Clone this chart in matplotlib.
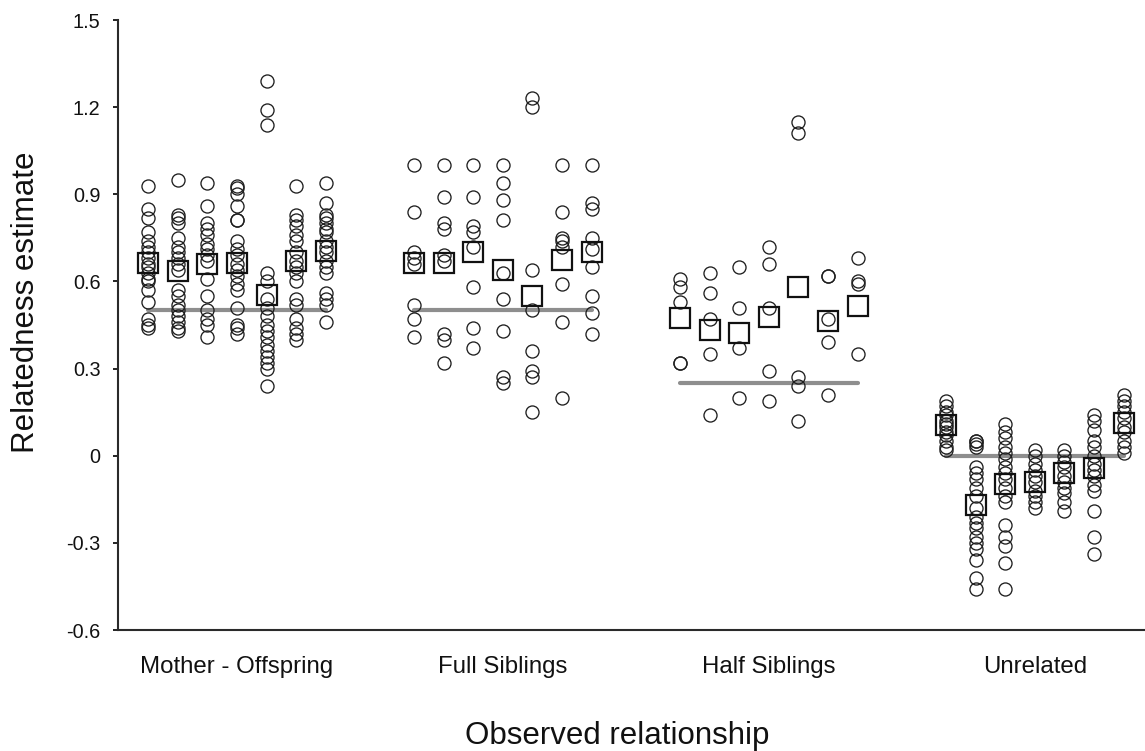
import matplotlib
matplotlib.use("Agg")
import matplotlib.pyplot as plt

plt.rcParams['font.family'] = ['Liberation Sans', 'DejaVu Sans']

categories = ["Mother - Offspring", "Full Siblings", "Half Siblings", "Unrelated"]
expected = [0.5, 0.5, 0.25, 0.0]

mother_offspring = [
    [0.93, 0.85, 0.82, 0.77, 0.74, 0.72, 0.70, 0.68, 0.66, 0.65, 0.63, 0.61, 0.60, 0.57, 0.53, 0.47, 0.45, 0.44],
    [0.95, 0.83, 0.82, 0.80, 0.75, 0.72, 0.70, 0.68, 0.66, 0.64, 0.57, 0.55, 0.52, 0.50, 0.48, 0.46, 0.44, 0.43],
    [0.94, 0.86, 0.80, 0.78, 0.76, 0.73, 0.71, 0.69, 0.67, 0.61, 0.55, 0.50, 0.47, 0.45, 0.41],
    [0.93, 0.92, 0.90, 0.86, 0.81, 0.81, 0.74, 0.71, 0.69, 0.66, 0.64, 0.62, 0.59, 0.57, 0.51, 0.45, 0.44, 0.42],
    [1.29, 1.19, 1.14, 0.63, 0.60, 0.54, 0.51, 0.48, 0.45, 0.43, 0.41, 0.38, 0.36, 0.34, 0.32, 0.30, 0.24],
    [0.93, 0.83, 0.81, 0.79, 0.76, 0.74, 0.70, 0.67, 0.65, 0.63, 0.60, 0.54, 0.52, 0.47, 0.44, 0.42, 0.40],
    [0.94, 0.87, 0.83, 0.82, 0.80, 0.78, 0.77, 0.74, 0.72, 0.70, 0.67, 0.65, 0.63, 0.56, 0.54, 0.52, 0.46],
]
mother_offspring_means = [0.665, 0.637, 0.66, 0.665, 0.553, 0.67, 0.706]

full_siblings = [
    [1.00, 0.84, 0.70, 0.68, 0.66, 0.52, 0.47, 0.41],
    [1.00, 0.89, 0.80, 0.78, 0.69, 0.67, 0.42, 0.40, 0.32],
    [1.00, 0.89, 0.79, 0.77, 0.72, 0.58, 0.44, 0.37],
    [1.00, 0.94, 0.88, 0.81, 0.63, 0.54, 0.43, 0.27, 0.25],
    [1.23, 1.20, 0.64, 0.50, 0.36, 0.29, 0.27, 0.15],
    [1.00, 0.84, 0.75, 0.74, 0.72, 0.59, 0.46, 0.20],
    [1.00, 0.87, 0.85, 0.75, 0.71, 0.65, 0.55, 0.49, 0.42],
]
full_siblings_means = [0.662, 0.665, 0.702, 0.639, 0.55, 0.674, 0.702]

half_siblings = [
    [0.61, 0.58, 0.53, 0.32, 0.32],
    [0.63, 0.56, 0.47, 0.35, 0.14],
    [0.65, 0.51, 0.37, 0.20],
    [0.72, 0.66, 0.51, 0.29, 0.19],
    [1.15, 1.11, 0.27, 0.24, 0.12],
    [0.62, 0.62, 0.47, 0.39, 0.21],
    [0.68, 0.60, 0.59, 0.35],
]
half_siblings_means = [0.473, 0.433, 0.421, 0.479, 0.582, 0.465, 0.516]

unrelated = [
    [0.19, 0.17, 0.15, 0.14, 0.12, 0.11, 0.10, 0.08, 0.07, 0.05, 0.03, 0.02],
    [0.05, 0.05, 0.04, 0.03, -0.04, -0.06, -0.08, -0.11, -0.14, -0.18, -0.21, -0.23, -0.25, -0.28, -0.30, -0.32, -0.36, -0.42, -0.46],
    [0.11, 0.08, 0.06, 0.03, 0.01, -0.01, -0.04, -0.06, -0.08, -0.11, -0.14, -0.16, -0.24, -0.28, -0.31, -0.37, -0.46],
    [0.02, 0.00, -0.03, -0.05, -0.07, -0.09, -0.12, -0.14, -0.16, -0.18],
    [0.02, 0.00, -0.02, -0.04, -0.07, -0.09, -0.11, -0.13, -0.16, -0.19],
    [0.14, 0.12, 0.09, 0.05, 0.03, 0.00, -0.03, -0.05, -0.07, -0.10, -0.12, -0.19, -0.28, -0.34],
    [0.21, 0.19, 0.17, 0.15, 0.13, 0.10, 0.08, 0.05, 0.03, 0.01],
]
unrelated_means = [0.106, -0.17, -0.097, -0.09, -0.058, -0.043, 0.111]

groups = [mother_offspring, full_siblings, half_siblings, unrelated]
group_means = [mother_offspring_means, full_siblings_means, half_siblings_means, unrelated_means]

W, H = 1145, 751
fig = plt.figure(figsize=(W / 100, H / 100), dpi=100)
ax = fig.add_axes([118 / W, (H - 630) / H, (W - 118) / W, 610 / H])

step = 0.1113
for gi, (cols, means) in enumerate(zip(groups, group_means)):
    xs = [gi + (j - 3) * step for j in range(len(cols))]
    ax.plot([xs[0], xs[-1]], [expected[gi], expected[gi]], color='#8e8e8e',
            lw=3.0, solid_capstyle='round', zorder=1)
    for x, vals in zip(xs, cols):
        ax.plot([x] * len(vals), vals, linestyle='none', marker='o', ms=9.4,
                mfc='none', mec='#1e1e1e', mew=0.95, zorder=2)
    ax.plot(xs, means, linestyle='none', marker='s', ms=14.8, mfc='none',
            mec='#111111', mew=1.6, zorder=3)

ax.set_xlim(-0.447, 3.414)
ax.set_ylim(-0.6, 1.5)
ax.set_yticks([-0.6, -0.3, 0, 0.3, 0.6, 0.9, 1.2, 1.5])
ax.set_yticklabels(['-0.6', '-0.3', '0', '0.3', '0.6', '0.9', '1.2', '1.5'])
ax.set_xticks(range(4))
ax.set_xticklabels(categories)
ax.tick_params(axis='y', direction='out', length=3.6, width=1.4, pad=9,
               labelsize=14.3, colors='#222222', labelcolor='#111111')
ax.tick_params(axis='x', length=0, pad=19, labelsize=17.3, labelcolor='#111111')
for s in ['top', 'right']:
    ax.spines[s].set_visible(False)
for s in ['left', 'bottom']:
    ax.spines[s].set_linewidth(1.5)
    ax.spines[s].set_color('#2a2a2a')

fig.text(617.5 / W, (H - 744) / H, 'Observed relationship', ha='center',
         va='baseline', fontsize=22.5, color='#111111')
fig.text(26 / W, (H - 302) / H, 'Relatedness estimate', ha='center',
         va='center', rotation=90, fontsize=22.5, color='#111111')

fig.savefig('out.png', dpi=100)
